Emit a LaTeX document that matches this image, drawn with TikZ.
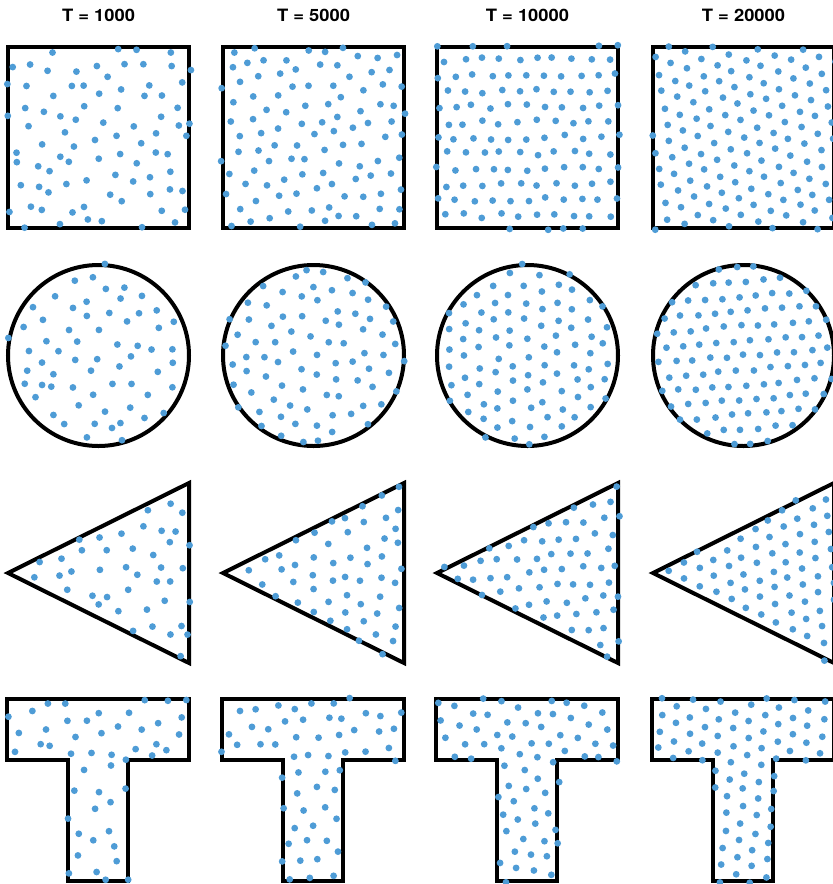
\documentclass[tikz,border=0pt]{standalone}
\usepackage{fontspec}
\setsansfont{TeX Gyre Heros}
\usepackage{xcolor}
\usepackage{tikz}
\definecolor{dotc}{RGB}{78,156,214}
\tikzset{
  outline/.style={line width=4pt,black,line join=miter},
  ttl/.style={font=\sffamily\bfseries\fontsize{17}{20}\selectfont,inner sep=0pt,xscale=1.08},
  pt/.style={fill=dotc}
}
% membership tests in shape-local coordinates (181 x 181 box)
\newcommand\insq{(\px>-2)&&(\px<183)&&(\py>-2)&&(\py<183)}
\newcommand\inci{((\px-90.5)/90.5)^2+((\py-90.5)/90.5)^2<1.035}
\newcommand\intr{(\px<183)&&(abs(\py-90)<\px*0.497+2.5)}
\newcommand\inte{((\px>-2)&&(\px<184)&&(\py>-2)&&(\py<63))||((\px>59)&&(\px<123)&&(\py>-2)&&(\py<184))}

\begin{document}
\begin{tikzpicture}[x=1pt,y=-1pt]
\useasboundingbox (0,0) rectangle (833,884);
\pgfmathsetseed{11}
\foreach \T/\cx/\sp/\jit [count=\c] in {1000/8/21.5/6.5,5000/223/19.5/4,10000/437/18/2.5,20000/653/17/1.2}{
  \node[ttl] (title\c) at (\cx+90.5,15) {T = \T};
  % outlines
  \draw[outline] (\cx,47) rectangle +(181,181);
  \draw[outline] (\cx+90.5,355.5) circle (90.5);
  \draw[outline] (\cx,573) -- (\cx+181,483) -- (\cx+181,663) -- cycle;
  \draw[outline] (\cx-1,699) -- (\cx+181,699) -- (\cx+181,760) -- (\cx+120,760) -- (\cx+120,881)
    -- (\cx+60,881) -- (\cx+60,760) -- (\cx-1,760) -- cycle;
  % scattered points
  \foreach \shp/\oy in {sq/47,ci/265,tr/483,te/699}{
    \pgfmathsetmacro\rot{rnd*60}
    \expandafter\let\expandafter\intest\csname in\shp\endcsname
    \foreach \j in {-8,...,8}{
      \foreach \i in {-8,...,8}{
        \pgfmathsetmacro\lx{(\i+0.5*mod(\j+16,2))*\sp}
        \pgfmathsetmacro\ly{\j*\sp*0.866}
        \pgfmathsetmacro\px{\lx*cos(\rot)-\ly*sin(\rot)+\jit*rand+90.5}
        \pgfmathsetmacro\py{\lx*sin(\rot)+\ly*cos(\rot)+\jit*rand+90.5}
        \pgfmathtruncatemacro\ins{\intest}
        \ifnum\ins=1 \fill[pt] (\cx+\px,\oy+\py) circle (3.4); \fi
      }
    }
  }
}
\end{tikzpicture}
\end{document}
